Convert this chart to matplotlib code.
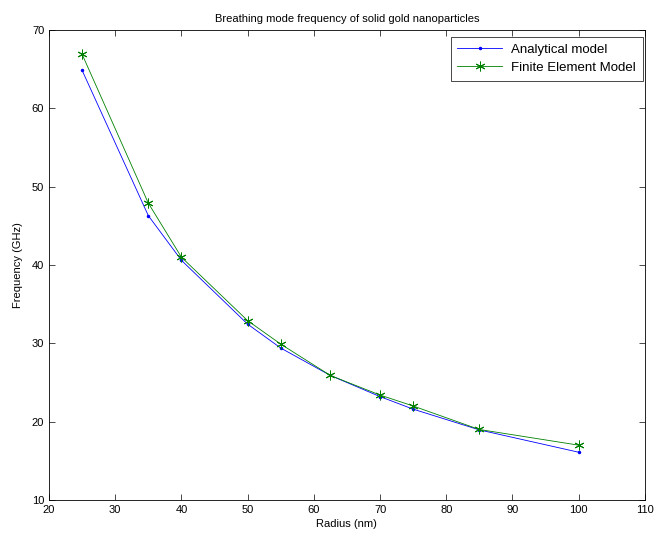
import matplotlib
matplotlib.use("Agg")
import matplotlib.pyplot as plt

radius = [25, 35, 40, 50, 55, 62.5, 70, 75, 85, 100]
analytical = [64.85, 46.3, 40.6, 32.45, 29.4, 25.9, 23.2, 21.6, 18.95, 16.1]
fem = [66.9, 47.9, 41.0, 32.9, 29.9, 25.9, 23.4, 22.0, 19.0, 17.0]
xticks = [20, 30, 40, 50, 60, 70, 80, 90, 100, 110]
yticks = [10, 20, 30, 40, 50, 60, 70]

plt.rcParams['font.family'] = ['Liberation Sans', 'DejaVu Sans']
plt.rcParams['font.size'] = 8

fig = plt.figure(figsize=(6.58, 5.41), dpi=100)
ax = fig.add_axes([0.0745, 0.0758, 0.9055, 0.8687])
ax.plot(radius, analytical, '-', color=(0, 0, 1), marker='.', markersize=3, linewidth=0.6,
        label='Analytical model')
ax.plot(radius, fem, '-', color=(0, 0.5, 0), marker=(6, 2, 0), markersize=7, linewidth=0.6,
        markeredgewidth=0.7, label='Finite Element Model')
ax.set_xlim(20, 110)
ax.set_ylim(10, 70)
ax.set_xticks(xticks)
ax.set_yticks(yticks)
ax.tick_params(direction='in', top=True, right=True, length=4, width=0.5, labelsize=8)
for s in ax.spines.values():
    s.set_linewidth(0.6)
ax.set_xlabel('Radius (nm)', fontsize=8, labelpad=3)
ax.set_ylabel('Frequency (GHz)', fontsize=8, labelpad=6)
ax.set_title('Breathing mode frequency of solid gold nanoparticles', fontsize=8, pad=6)
leg = ax.legend(loc='upper right', fontsize=9.5, fancybox=False, edgecolor='black',
                framealpha=1, handlelength=3.4, borderpad=0.5, labelspacing=0.45,
                handletextpad=0.7, borderaxespad=0, bbox_to_anchor=(0.9966, 0.985))
leg.get_frame().set_linewidth(0.5)
fig.savefig('out.png', dpi=100)
